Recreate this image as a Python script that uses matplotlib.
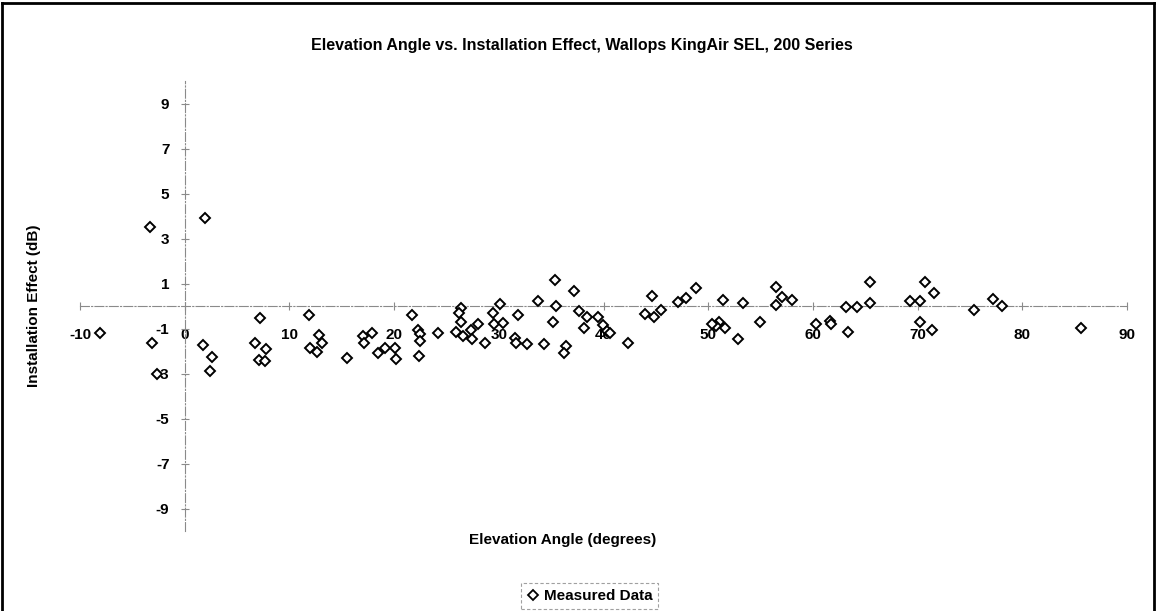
import matplotlib.pyplot as plt
from matplotlib.lines import Line2D

# Elevation angle (deg) and installation effect (dB) for each measurement
angle = [-8.1, -3.1, -2.6, -3.35, 1.9, 1.7, 2.6, 2.4, 7.2, 6.7, 7.8, 7.1, 7.7,
         11.9, 12.8, 13.1, 12.0, 12.6, 15.5, 17.0, 17.9, 17.1, 18.5, 19.1, 20.1,
         20.2, 21.7, 22.3, 22.5, 22.5, 22.4, 24.2, 26.4, 26.2, 26.4, 25.9, 26.6,
         27.3, 27.4, 28.0, 28.7, 29.4, 30.1, 29.5, 30.4, 31.5, 31.6, 31.8, 32.7,
         33.7, 34.3, 35.4, 35.5, 35.2, 36.4, 36.2, 37.2, 37.7, 38.4, 38.1, 39.5,
         39.9, 40.3, 40.6, 42.3, 44.0, 44.6, 44.8, 45.5, 47.1, 47.9, 48.8, 51.4,
         53.3, 51.0, 50.7, 51.6, 50.4, 52.8, 54.9, 56.5, 56.5, 57.0, 58.0, 60.3,
         61.6, 61.7, 63.2, 63.3, 64.2, 65.4, 65.4, 69.3, 70.2, 70.7, 71.6, 70.2,
         71.4, 75.4, 77.2, 78.1, 85.6]
effect = [-1.21, -1.63, -3.04, 3.5, 3.9, -1.73, -2.27, -2.87, -0.55, -1.63, -1.91,
          -2.4, -2.44, -0.4, -1.29, -1.63, -1.88, -2.03, -2.3, -1.33, -1.21, -1.66,
          -2.07, -1.88, -1.88, -2.37, -0.4, -1.07, -1.26, -1.56, -2.22, -1.19, -0.1,
          -0.3, -0.7, -1.16, -1.32, -1.07, -1.47, -0.81, -1.66, -0.3, 0.08, -0.81,
          -0.74, -1.44, -1.66, -0.4, -1.67, 0.22, -1.67, 1.16, 0.0, -0.71, -1.76,
          -2.1, 0.67, -0.21, -0.47, -0.96, -0.47, -0.84, -1.1, -1.2, -1.66, -0.34,
          0.46, -0.47, -0.18, 0.19, 0.37, 0.8, 0.27, 0.15, -0.7, -0.87, -0.99,
          -0.8, -1.47, -0.7, 0.86, 0.04, 0.41, 0.27, -0.81, -0.67, -0.8, -0.06,
          -1.14, -0.06, 1.08, 0.12, 0.22, 0.22, 1.05, 0.56, -0.7, -1.07, -0.18,
          0.31, 0.01, -0.99]

x_ticks = [-10, 0, 10, 20, 30, 40, 50, 60, 70, 80, 90]
y_ticks = [-9, -7, -5, -3, -1, 1, 3, 5, 7, 9]

plt.rcParams['font.family'] = ['Liberation Sans', 'DejaVu Sans']
plt.rcParams['font.weight'] = 'bold'
plt.rcParams['axes.unicode_minus'] = False

fig = plt.figure(figsize=(11.56, 6.11), dpi=100)
ax = fig.add_axes([0.0692, 0.1309, 0.9058, 0.7365])

ax.plot(angle, effect, linestyle='none', marker='D', markersize=5.5,
        markerfacecolor='white', markeredgecolor='black', markeredgewidth=1.4,
        label='Measured Data', zorder=3)

ax.set_xlim(-10, 90)
ax.set_ylim(-10, 10)
ax.set_xticks(x_ticks)
ax.set_yticks(y_ticks)

# axes cross at the origin, Excel style
for side in ['top', 'right']:
    ax.spines[side].set_visible(False)
ax.spines['left'].set_position(('data', 0))
ax.spines['bottom'].set_position(('data', 0))
for side in ['left', 'bottom']:
    ax.spines[side].set_color('#8a8a8a')
    ax.spines[side].set_linewidth(0.8)
    ax.spines[side].set_linestyle((0, (8, 2, 1, 2)))
ax.tick_params(axis='both', direction='inout', length=6, width=0.8,
               color='#8a8a8a', labelsize=11)
ax.tick_params(axis='x', pad=13)
ax.tick_params(axis='y', pad=8)

fig.text(0.503, 0.926, 'Elevation Angle vs. Installation Effect, Wallops KingAir SEL, 200 Series',
         ha='center', va='center', fontsize=11.5, fontweight='bold')
fig.text(0.487, 0.117, 'Elevation Angle (degrees)', ha='center', va='center',
         fontsize=11, fontweight='bold')
fig.text(0.029, 0.50, 'Installation Effect (dB)', ha='center', va='center',
         rotation=90, fontsize=11, fontweight='bold')

handle = Line2D([], [], linestyle='none', marker='D', markersize=5,
                markerfacecolor='white', markeredgecolor='black', markeredgewidth=1.3)
leg = fig.legend([handle], ['Measured Data'], loc='upper center',
                 bbox_to_anchor=(0.51, 0.058), frameon=True, fancybox=False,
                 handlelength=0.8, handletextpad=0.3, borderpad=0.4,
                 prop={'size': 11, 'weight': 'bold'})
leg.get_frame().set_edgecolor('#888888')
leg.get_frame().set_linewidth(0.8)
leg.get_frame().set_linestyle((0, (3, 2)))

# outer frame
for xs, ys in [([0.002, 0.998], [0.995, 0.995]), ([0.002, 0.002], [0, 0.995]),
               ([0.998, 0.998], [0, 0.995])]:
    fig.add_artist(Line2D(xs, ys, color='black', linewidth=2, transform=fig.transFigure))

fig.savefig('out.png', dpi=100, facecolor='white')
